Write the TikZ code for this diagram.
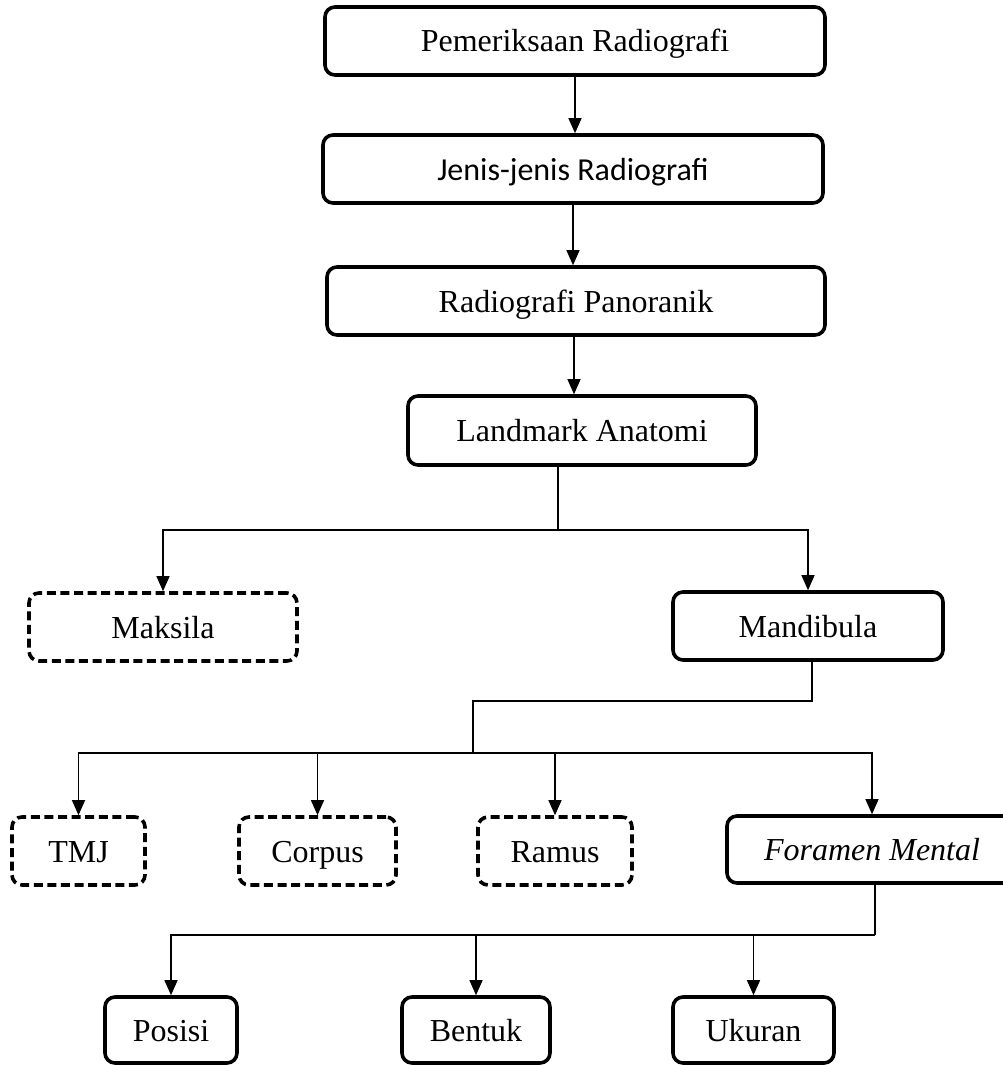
\documentclass[tikz,border=0pt]{standalone}
\usepackage{fontspec}
\setmainfont{Liberation Serif}
\newfontfamily\calibrifont{Carlito}
\usepackage{tikz}
\usetikzlibrary{arrows.meta}
\tikzset{
	box line/.style={line width=1.8pt}
}
\tikzstyle{roundbox}=[draw, box line, rounded corners=5pt, minimum height=34pt, inner sep=0pt, text height=13pt, text depth=2pt, font=\fontsize{16}{18}\selectfont]
\tikzstyle{dashbox}=[roundbox, dash pattern=on 4.5pt off 2.3pt]
\tikzstyle{link}=[line width=0.6pt]
\tikzstyle{arrowlink}=[link, -{Triangle[width=6.5pt,length=7.5pt]}]

\begin{document}
\begin{tikzpicture}[x=0.5pt, y=-0.5pt]
	\useasboundingbox (0,0) rectangle (1002,1065);
	% top chain
	\node[roundbox, minimum width=250pt] (pemeriksaan) at (575,41) {Pemeriksaan Radiografi};
	\node[roundbox, minimum width=250pt, font=\calibrifont\fontsize{16}{18}\selectfont] (jenis) at (573,169) {Jenis-jenis Radiografi};
	\node[roundbox, minimum width=249pt] (panoramik) at (576,301) {Radiografi Panoranik};
	\node[roundbox, minimum width=174pt, minimum height=34.5pt] (landmark) at (582,430.5) {Landmark Anatomi};
	\draw[arrowlink] (pemeriksaan.south) -- (pemeriksaan.south |- jenis.north);
	\draw[arrowlink] (jenis.south) -- (jenis.south |- panoramik.north);
	\draw[arrowlink] ([xshift=-1pt]panoramik.south) -- ([xshift=-1pt]panoramik.south |- landmark.north);
	% second level
	\node[dashbox, minimum width=134pt] (maksila) at (163,627) {Maksila};
	\node[roundbox, minimum width=135pt] (mandibula) at (808,626) {Mandibula};
	\coordinate (j1) at (558,530);
	\draw[link] (landmark.south -| j1) -- (j1);
	\draw[arrowlink] (j1) -| (maksila.north);
	\draw[arrowlink] (j1) -| (mandibula.north);
	% third level
	\node[dashbox, minimum width=66.5pt] (tmj) at (78.5,851) {TMJ};
	\node[dashbox, minimum width=78.5pt] (corpus) at (317.5,851) {Corpus};
	\node[dashbox, minimum width=77pt] (ramus) at (555,851) {Ramus};
	\node[roundbox, minimum width=145pt, minimum height=33.5pt] (foramen) at (872,849.5) {\itshape Foramen Mental};
	\coordinate (j2) at (812,701);
	\coordinate (j3) at (473,753);
	\draw[link] (mandibula.south -| j2) -- (j2) -| (j3);
	\draw[arrowlink] (j3) -| (tmj.north);
	\draw[arrowlink] (j3) -| (corpus.north);
	\draw[arrowlink] (j3) -| (ramus.north);
	\draw[arrowlink] (j3) -| (foramen.north);
	% fourth level
	\node[roundbox, minimum width=66pt, minimum height=33pt] (posisi) at (171,1030) {Posisi};
	\node[roundbox, minimum width=74pt, minimum height=33pt] (bentuk) at (476,1030) {Bentuk};
	\node[roundbox, minimum width=80.5pt, minimum height=33pt] (ukuran) at (753.5,1030) {Ukuran};
	\coordinate (j4) at (875,935);
	\draw[link] (foramen.south -| j4) -- (j4);
	\draw[arrowlink] (j4) -| (posisi.north);
	\draw[arrowlink] (j4) -| (bentuk.north);
	\draw[arrowlink] (j4) -| (ukuran.north);
\end{tikzpicture}
\end{document}
